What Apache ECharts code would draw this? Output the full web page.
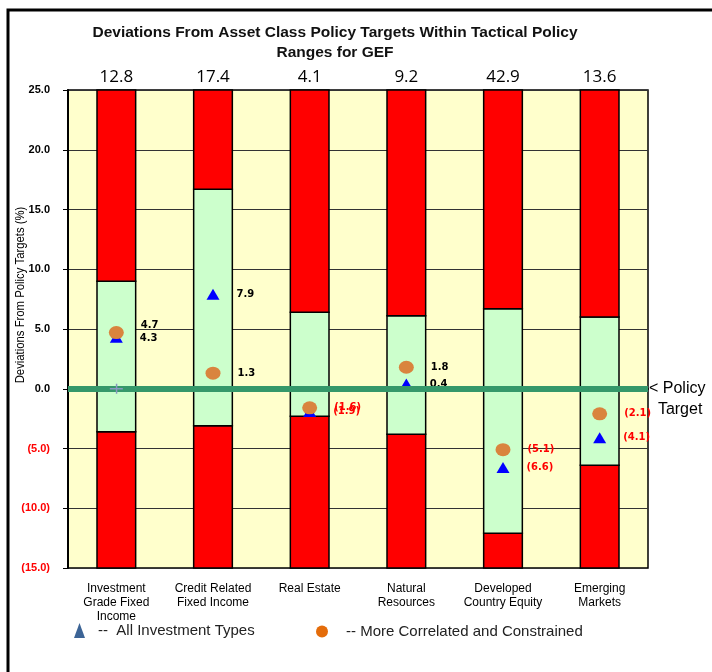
<!DOCTYPE html>
<html>
<head>
<meta charset="utf-8">
<script src="https://cdn.jsdelivr.net/npm/echarts@6/dist/echarts.min.js"></script>
<style>
  html, body { margin: 0; padding: 0; background: #fff; }
  #chart { width: 712px; height: 672px; }
</style>
</head>
<body>
<div id="chart"></div>
<script>
// categories and values
var categories = [
  'Investment\nGrade Fixed\nIncome',
  'Credit Related\nFixed Income',
  'Real Estate',
  'Natural\nResources',
  'Developed\nCountry Equity',
  'Emerging\nMarkets'
];
var topLabels = ['12.8', '17.4', '4.1', '9.2', '42.9', '13.6'];
// tactical range (green band) per asset class
var lowerBounds = [-3.6, -3.1, -2.3, -3.8, -12.1, -6.4];
var upperBounds = [9.0, 16.7, 6.4, 6.1, 6.7, 6.0];
// deviations
var allTypes = [4.3, 7.9, -1.9, 0.4, -6.6, -4.1];
var correlated = [4.7, 1.3, -1.6, 1.8, -5.1, -2.1];
var policyMark = [0, null, null, null, null, null];
var axisMin = -15, axisMax = 25;

function fmt(v) {
  return v < 0 ? '(' + (-v).toFixed(1) + ')' : v.toFixed(1);
}
function labelFmt(p) {
  var v = p.value;
  return v < 0 ? '{n|' + fmt(v) + '}' : '{p|' + fmt(v) + '}';
}
var labelRich = {
  p: { color: '#000', fontFamily: 'DejaVu Sans', fontWeight: 'bold', fontSize: 10 },
  n: { color: '#ff0000', fontFamily: 'DejaVu Sans', fontWeight: 'bold', fontSize: 10 }
};

// the first class has both labels close together, nudge them apart like the original
var correlatedData = correlated.map(function (v, i) {
  return i === 0 ? { value: v, label: { offset: [0, -7] } } : v;
});
var allTypesData = allTypes.map(function (v, i) {
  return i === 0 ? { value: v, label: { offset: [0, 1.5] } } : v;
});

var chart = echarts.init(document.getElementById('chart'));
var option = {
  animation: false,
  textStyle: { fontFamily: 'Liberation Sans' },
  title: {
    text: 'Deviations From Asset Class Policy Targets Within Tactical Policy\nRanges for GEF',
    left: 330,
    top: 18,
    textAlign: 'center',
    textStyle: { fontSize: 15.5, fontWeight: 'bold', lineHeight: 20, color: '#111' }
  },
  graphic: [
    {
      type: 'rect', z: -10, silent: true,
      shape: { x: 8, y: 10, width: 800, height: 800 },
      style: { fill: 'none', stroke: '#000', lineWidth: 3 }
    },
    {
      type: 'text', x: 20, y: 295, rotation: Math.PI / 2, scaleX: 0.87,
      style: {
        text: 'Deviations From Policy Targets (%)',
        fontFamily: 'Liberation Sans', fontSize: 13, fill: '#000',
        align: 'center', verticalAlign: 'middle'
      }
    }
  ],
  legend: [
    {
      left: 69, top: 618, itemWidth: 11, itemHeight: 15,
      data: [{ name: 'All Investment Types', icon: 'triangle', itemStyle: { color: '#3c6496' } }],
      formatter: function (n) { return '--  ' + n; },
      textStyle: { fontSize: 15, color: '#222', padding: [0, 0, 0, 8] }
    },
    {
      left: 311, top: 619, itemWidth: 12, itemHeight: 12,
      data: [{ name: 'More Correlated and Constrained', icon: 'circle', itemStyle: { color: '#e46c0a' } }],
      formatter: function (n) { return '-- ' + n; },
      textStyle: { fontSize: 15, color: '#222', padding: [0, 0, 0, 13] }
    }
  ],
  grid: {
    left: 68, right: 64, top: 90, bottom: 104,
    show: true, backgroundColor: '#ffffcc', borderColor: '#000', borderWidth: 1.5
  },
  xAxis: [
    {
      type: 'category', data: categories, position: 'bottom',
      axisLine: { lineStyle: { color: '#000', width: 2 } },
      axisTick: { show: false },
      axisLabel: { fontSize: 12, color: '#000', lineHeight: 14, margin: 14, interval: 0 }
    },
    {
      type: 'category', data: topLabels, position: 'top',
      axisLine: { show: false }, axisTick: { show: false },
      axisLabel: { fontSize: 17, color: '#000', margin: 4, fontFamily: 'Open Sans' }
    }
  ],
  yAxis: {
    type: 'value', min: axisMin, max: axisMax, interval: 5,
    axisLine: { show: true, lineStyle: { color: '#000', width: 2 } },
    axisTick: { show: true, length: 5, lineStyle: { color: '#000' } },
    axisLabel: {
      margin: 18, fontSize: 11, fontWeight: 'bold',
      formatter: fmt,
      color: function (v) { return Number(v) < 0 ? '#ff0000' : '#000'; }
    },
    splitLine: { lineStyle: { color: '#333', width: 1 } }
  },
  series: [
    {
      type: 'custom', name: 'ranges', z: 2,
      data: lowerBounds.map(function (lo, i) { return [i, lo, upperBounds[i]]; }),
      encode: { x: 0, y: [1, 2] },
      renderItem: function (params, api) {
        var i = api.value(0), lo = api.value(1), hi = api.value(2);
        var w = api.size([1, 0])[0] * 0.4;
        var pMin = api.coord([i, axisMin]);
        var pLo = api.coord([i, lo]);
        var pHi = api.coord([i, hi]);
        var pMax = api.coord([i, axisMax]);
        var x0 = pMin[0] - w / 2;
        var st = function (c) { return { fill: c, stroke: '#000', lineWidth: 1.5 }; };
        return {
          type: 'group',
          children: [
            { type: 'rect', shape: { x: x0, y: pLo[1], width: w, height: pMin[1] - pLo[1] }, style: st('#ff0000') },
            { type: 'rect', shape: { x: x0, y: pHi[1], width: w, height: pLo[1] - pHi[1] }, style: st('#ccffcc') },
            { type: 'rect', shape: { x: x0, y: pMax[1], width: w, height: pHi[1] - pMax[1] }, style: st('#ff0000') }
          ]
        };
      }
    },
    {
      type: 'scatter', name: 'target line', z: 3,
      data: [],
      markLine: {
        silent: true, symbol: 'none',
        data: [{ yAxis: 0 }],
        lineStyle: { color: '#35986a', width: 6, type: 'solid' },
        label: {
          show: true, position: 'end', distance: 1,
          formatter: '< Policy\n  Target',
          fontSize: 16, color: '#000', lineHeight: 21,
          offset: [0, 10]
        }
      }
    },
    {
      type: 'scatter', name: 'policy', z: 6,
      data: policyMark,
      symbol: 'path://M6,0H7.5V4.25H13V5.75H7.5V10H6V5.75H0V4.25H6Z',
      symbolSize: [13, 10],
      itemStyle: { color: '#8898c0', opacity: 1 }
    },
    {
      type: 'scatter', name: 'All Investment Types', z: 4,
      data: allTypesData,
      symbol: 'triangle', symbolSize: [13, 11],
      itemStyle: { color: '#0000ff', opacity: 1 },
      label: { show: true, position: 'right', distance: 17, formatter: labelFmt, rich: labelRich }
    },
    {
      type: 'scatter', name: 'More Correlated and Constrained', z: 5,
      data: correlatedData,
      symbol: 'circle', symbolSize: [15, 13],
      itemStyle: { color: '#d9843e', opacity: 1 },
      label: { show: true, position: 'right', distance: 17, formatter: labelFmt, rich: labelRich }
    }
  ]
};
chart.setOption(option);
</script>
</body>
</html>
